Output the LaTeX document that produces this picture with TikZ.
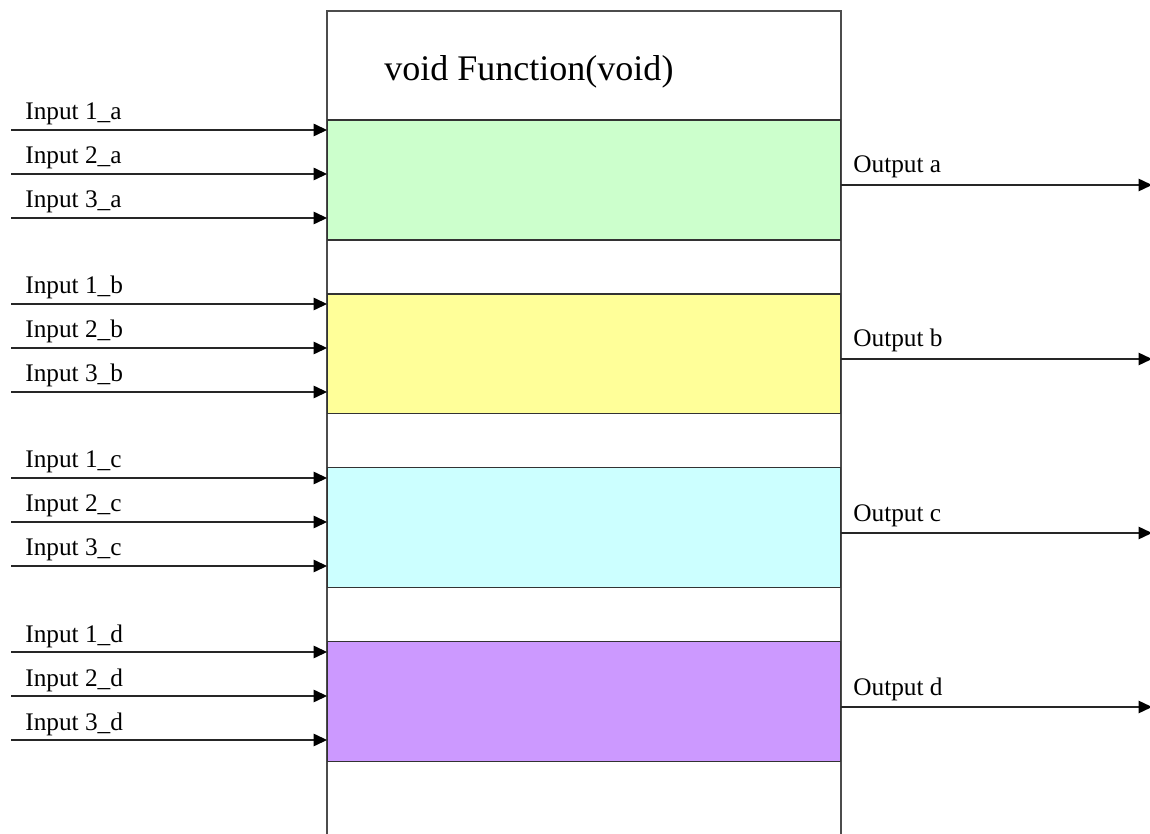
\documentclass[tikz,border=0pt]{standalone}
\usepackage{fontspec}
\setmainfont{Liberation Serif}
\usepackage{tikz}
\usetikzlibrary{positioning,calc,arrows.meta}
\usepackage{xcolor}
\definecolor{bandA}{HTML}{CCFFCC}
\definecolor{bandB}{HTML}{FFFF99}
\definecolor{bandC}{HTML}{CCFFFF}
\definecolor{bandD}{HTML}{CC99FF}

\begin{document}
\begin{tikzpicture}[x=0.02cm,y=-0.02cm,node distance=1.08cm]
		% 定义具体形状
		\tikzstyle{band} = [rectangle, draw=black!80, line width=0.6pt, minimum width=10.28cm, minimum height=2.4cm, inner sep=0pt, outer sep=0pt]	% 定义色块
		\tikzstyle{inlabel} = [anchor=base west, inner sep=0pt, font=\fontsize{14.4}{16}\selectfont]	% 定义输入文字
		\tikzstyle{outlabel} = [anchor=base west, inner sep=0pt, font=\fontsize{14.4}{16}\selectfont]	% 定义输出文字
		\tikzstyle{arrow} = [line width=0.8pt, black!85, -{Triangle[length=0.27cm,width=0.25cm,fill=black,color=black]}]	% 定义箭头
		\useasboundingbox (0,0) rectangle (1150,834);
		
		% 函数外框
		\draw [black!70, line width=0.6pt] (327,850) -- (327,11) -- (841,11) -- (841,850);
		\node (title) [anchor=west, inner sep=0pt, font=\fontsize{20.5}{24}\selectfont] at (384,72) {void Function(void)};
		
		% 色块
		\node (ba) [band, fill=bandA] at (584,180) {};
		\node (bb) [band, fill=bandB, below=of ba] {};
		\node (bc) [band, fill=bandC, below=of bb] {};
		\node (bd) [band, fill=bandD, below=of bc] {};
		
		% 输入端点
		\coordinate (in1a) at (11,130);
		\coordinate (in2a) at (11,174);
		\coordinate (in3a) at (11,218);
		\coordinate (in1b) at (11,304);
		\coordinate (in2b) at (11,348);
		\coordinate (in3b) at (11,392);
		\coordinate (in1c) at (11,478);
		\coordinate (in2c) at (11,522);
		\coordinate (in3c) at (11,566);
		\coordinate (in1d) at (11,652);
		\coordinate (in2d) at (11,696);
		\coordinate (in3d) at (11,740);
		
		% 输出端点
		\coordinate (outa) at (1152,185);
		\coordinate (outb) at (1152,359);
		\coordinate (outc) at (1152,533);
		\coordinate (outd) at (1152,707);
		
		% 输入文字
		\node (l1a) [inlabel] at (25,120) {Input 1\_a};
		\node (l2a) [inlabel] at (25,164) {Input 2\_a};
		\node (l3a) [inlabel] at (25,208) {Input 3\_a};
		\node (l1b) [inlabel] at (25,294) {Input 1\_b};
		\node (l2b) [inlabel] at (25,338) {Input 2\_b};
		\node (l3b) [inlabel] at (25,382) {Input 3\_b};
		\node (l1c) [inlabel] at (25,468) {Input 1\_c};
		\node (l2c) [inlabel] at (25,512) {Input 2\_c};
		\node (l3c) [inlabel] at (25,556) {Input 3\_c};
		\node (l1d) [inlabel] at (25,642) {Input 1\_d};
		\node (l2d) [inlabel] at (25,686) {Input 2\_d};
		\node (l3d) [inlabel] at (25,730) {Input 3\_d};
		
		% 输出文字
		\node (loa) [outlabel] at (853,173) {Output a};
		\node (lob) [outlabel] at (853,347) {Output b};
		\node (loc) [outlabel] at (853,521) {Output c};
		\node (lod) [outlabel] at (853,695) {Output d};
		
		% 连接输入
		\draw [arrow](in1a) -- (in1a -| ba.west);
		\draw [arrow](in2a) -- (in2a -| ba.west);
		\draw [arrow](in3a) -- (in3a -| ba.west);
		\draw [arrow](in1b) -- (in1b -| bb.west);
		\draw [arrow](in2b) -- (in2b -| bb.west);
		\draw [arrow](in3b) -- (in3b -| bb.west);
		\draw [arrow](in1c) -- (in1c -| bc.west);
		\draw [arrow](in2c) -- (in2c -| bc.west);
		\draw [arrow](in3c) -- (in3c -| bc.west);
		\draw [arrow](in1d) -- (in1d -| bd.west);
		\draw [arrow](in2d) -- (in2d -| bd.west);
		\draw [arrow](in3d) -- (in3d -| bd.west);
		
		% 连接输出
		\draw [arrow](ba.east |- outa) -- (outa);
		\draw [arrow](bb.east |- outb) -- (outb);
		\draw [arrow](bc.east |- outc) -- (outc);
		\draw [arrow](bd.east |- outd) -- (outd);
	\end{tikzpicture}
\end{document}
